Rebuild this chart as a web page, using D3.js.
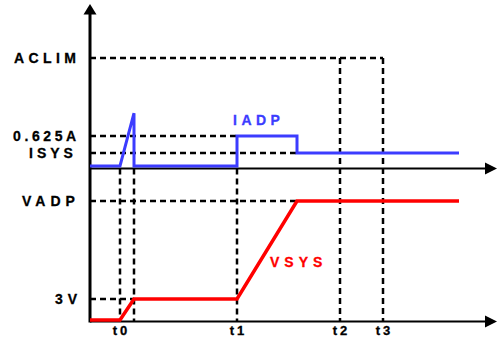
<!DOCTYPE html>
<html>
<head>
<meta charset="utf-8">
<script src="https://cdn.jsdelivr.net/npm/d3@7"></script>
<style>
  html, body { margin: 0; padding: 0; background: #fff; }
  svg { display: block; }
  text { font-family: "Liberation Sans", Arial, sans-serif; font-weight: bold; }
</style>
</head>
<body>
<svg id="chart" width="497" height="337"></svg>
<script>
// ---- data ----
const timeLabels = ["t0", "t1", "t2", "t3"];
const timeValues = [30, 147, 250, 293];
const rampEnds = [44, 207];            // end of t0 ramp, end of VSYS ramp
const timeEnd = 369;                    // end of traces
const axisEnd = 407;                    // end of time axes

const currentLabels = ["ACLIM", "0.625A", "ISYS"];
const currentLevels = [2.25, 0.625, 0.27];
const iadpTime = [0, 30, 44, 44, 147, 147, 207, 207, 369];
const iadpCurrent = [0, 0, 1.1, 0, 0, 0.625, 0.625, 0.27, 0.27];

const voltageLabels = ["VADP", "3V"];
const voltageLevels = [17, 3];
const vsysTime = [0, 30, 44, 147, 207, 369];
const vsysVoltage = [0, 0, 3, 3, 17, 17];

// ---- scales ----
const svg = d3.select("#chart");
const x = d3.scaleLinear().domain([0, axisEnd]).range([90, 497]);
const yI = d3.scaleLinear().domain([0, 0.625]).range([166, 136]);
const yV = d3.scaleLinear().domain([0, 3]).range([320, 299]);

const BLUE = "#3c3cff", RED = "#ff0000";
const upperAxisY = yI(0) + 2.5;
const lowerAxisY = yV(0) + 1.5;
const dash = "6,4";

// ---- dashed guides ----
const g = svg.append("g").attr("stroke", "#000").attr("stroke-width", 2.5)
  .attr("stroke-dasharray", dash).attr("fill", "none");

const hGuides = [
  { y: yI(currentLevels[0]), x2: x(timeValues[3]) },
  { y: yI(currentLevels[1]), x2: x(timeValues[1]) },
  { y: yI(currentLevels[2]), x2: x(rampEnds[1]) },
  { y: yV(voltageLevels[0]), x2: x(rampEnds[1]) },
  { y: yV(voltageLevels[1]), x2: x(rampEnds[0]) }
];
g.selectAll("line.h").data(hGuides).join("line").attr("class", "h")
  .attr("x1", x(0)).attr("x2", d => d.x2)
  .attr("y1", d => d.y).attr("y2", d => d.y);

const vGuides = [
  { x: x(timeValues[0]), y1: upperAxisY },
  { x: x(rampEnds[0]), y1: upperAxisY },
  { x: x(timeValues[1]), y1: upperAxisY },
  { x: x(timeValues[2]), y1: yI(currentLevels[0]) },
  { x: x(timeValues[3]), y1: yI(currentLevels[0]) }
];
g.selectAll("line.v").data(vGuides).join("line").attr("class", "v")
  .attr("x1", d => d.x).attr("x2", d => d.x)
  .attr("y1", d => d.y1).attr("y2", lowerAxisY);

// ---- axes ----
const ax = svg.append("g").attr("stroke", "#000");
ax.append("line").attr("x1", 90).attr("x2", 90).attr("y1", 12).attr("y2", lowerAxisY + 1)
  .attr("stroke-width", 3);
ax.append("path").attr("d", "M90,4 L96.5,14.5 L83.5,14.5 Z").attr("fill", "#000").attr("stroke", "none");
[upperAxisY, lowerAxisY].forEach(yy => {
  ax.append("line").attr("x1", 90).attr("x2", 487).attr("y1", yy).attr("y2", yy)
    .attr("stroke-width", 2);
  ax.append("path").attr("d", `M497,${yy} L485,${yy - 6} L485,${yy + 6} Z`)
    .attr("fill", "#000").attr("stroke", "none");
});

// ---- traces ----
const lineI = d3.line().x((d, i) => x(iadpTime[i])).y(d => yI(d));
svg.append("path").attr("d", lineI(iadpCurrent)).attr("fill", "none")
  .attr("stroke", BLUE).attr("stroke-width", 3).attr("stroke-linejoin", "miter");

const lineV = d3.line().x((d, i) => x(vsysTime[i])).y(d => yV(d));
svg.append("path").attr("d", lineV(vsysVoltage)).attr("fill", "none")
  .attr("stroke", RED).attr("stroke-width", 3.5).attr("stroke-linejoin", "miter");

// ---- labels ----
function label(txt, xx, yy, spacing, color, size) {
  svg.append("text").attr("x", xx).attr("y", yy).text(txt)
    .attr("font-size", size || 14).attr("letter-spacing", spacing)
    .attr("fill", color || "#000")
    .attr("stroke", color || "#000").attr("stroke-width", 0.3);
}
const leftPos = [14, 13, 29];
const leftSp = [4.4, 3.6, 4];
currentLabels.forEach((t, i) => label(t, leftPos[i], yI(currentLevels[i]) + 5, leftSp[i]));
const vPos = [22, 55];
const vSp = [5, 5];
voltageLabels.forEach((t, i) => label(t, vPos[i], yV(voltageLevels[i]) + 5, vSp[i]));

timeLabels.forEach((t, i) => {
  svg.append("text").attr("x", x(timeValues[i]) + 1.5).attr("y", 335).text(t)
    .attr("text-anchor", "middle").attr("font-size", 13).attr("letter-spacing", 3)
    .attr("stroke", "#000").attr("stroke-width", 0.3);
});

label("IADP", 233, 125, 4.5, BLUE);
label("VSYS", 270, 267, 5, RED);
</script>
</body>
</html>
